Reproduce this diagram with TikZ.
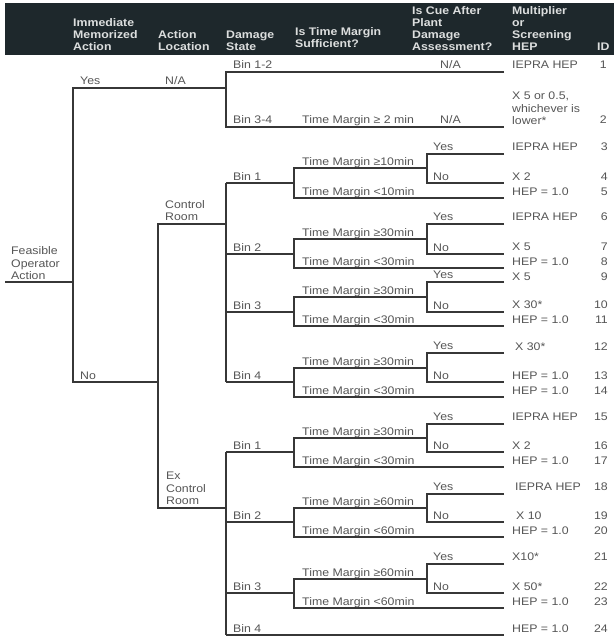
\documentclass[tikz,border=0pt]{standalone}
\usepackage{fontspec}
\setmainfont{Liberation Sans}[FakeStretch=1.12]
\definecolor{linec}{RGB}{55,55,55}
\definecolor{txtc}{RGB}{85,85,85}
\definecolor{hdrbg}{RGB}{30,40,44}
\definecolor{hdrtxt}{RGB}{220,222,222}
\tikzset{
  ln/.style={draw=linec, line width=1.6pt, line join=miter},
  lbl/.style={anchor=base west, inner sep=0pt, text=txtc, font=\fontsize{11}{13}\selectfont},
  mlbl/.style={anchor=south west, inner sep=0pt, align=left, text=txtc, font=\fontsize{11}{12.5}\selectfont},
  idl/.style={anchor=base east, inner sep=0pt, text=txtc, font=\fontsize{11}{13}\selectfont},
  hdr/.style={anchor=south west, inner sep=0pt, align=left, text depth=0pt, text=hdrtxt, font=\bfseries\fontsize{11}{12}\selectfont},
}
% sub-bin: #1 name, #2 yb, #3 yge, #4 ylt, #5 yyes, #6 threshold
\newcommand{\mysubbin}[6]{%
  \coordinate (#1b0) at (226,#2);
  \coordinate (#1b1) at (294,#2);
  \coordinate (#1ge0) at (294,#3);
  \coordinate (#1ge1) at (427,#3);
  \coordinate (#1lt0) at (294,#4);
  \coordinate (#1lt1) at (504,#4);
  \coordinate (#1y0) at (427,#5);
  \coordinate (#1y1) at (504,#5);
  \coordinate (#1n0) at (427,#2);
  \coordinate (#1n1) at (504,#2);
  \draw[ln] (#1b0) -- (#1b1);
  \draw[ln] (#1ge1) -- (#1ge0) -- (#1lt0) -- (#1lt1);
  \draw[ln] (#1y1) -- (#1y0) -- (#1n0) -- (#1n1);
  \node[lbl] (#1tge) at ($(#1ge0)+(8,-3)$) {Time Margin ≥#6};
  \node[lbl] (#1tlt) at ($(#1lt0)+(8,-3)$) {Time Margin <#6};
  \node[lbl] (#1yes) at ($(#1y0)+(6,-4)$) {Yes};
  \node[lbl] (#1no) at ($(#1n0)+(6,-3)$) {No};
}
\usetikzlibrary{calc}
\begin{document}
\begin{tikzpicture}[x=1pt,y=-1pt]
\useasboundingbox (0,0) rectangle (614,639);
% header
\fill[hdrbg] (5,3) rectangle (614,55);
\node[hdr] (h1) at (73,51) {Immediate\\Memorized\\Action};
\node[hdr] (h2) at (158,51) {Action\\Location};
\node[hdr] (h3) at (226,51) {Damage\\State};
\node[hdr] (h4) at (295,48) {Is Time Margin\\Sufficient?};
\node[hdr] (h5) at (412,51) {Is Cue After\\Plant\\Damage\\Assessment?};
\node[hdr] (h6) at (512,51) {Multiplier\\or\\Screening\\HEP};
\node[hdr] (h7) at (597,51) {ID};

% root
\coordinate (r0) at (5,282);
\coordinate (r1) at (73,282);
\coordinate (ry) at (73,88);
\coordinate (rn) at (73,382);
\coordinate (ya) at (226,88);
\coordinate (na) at (158,382);
\draw[ln] (r0) -- (r1);
\draw[ln] (ya) -- (ry) -- (rn) -- (na);
\node[mlbl] (feas) at (11,280) {Feasible\\Operator\\Action};
\node[lbl] (yes0) at (80,85) {Yes};
\node[lbl] (no0) at (80,379) {No};
\node[lbl] (na0) at (165,85) {N/A};

% yes branch
\coordinate (b12a) at (226,72);
\coordinate (b12b) at (504,72);
\coordinate (b34a) at (226,127);
\coordinate (b34b) at (504,127);
\draw[ln] (b12b) -- (b12a) -- (b34a) -- (b34b);
\node[lbl] (lb12) at (233,69) {Bin 1-2};
\node[lbl] (lb34) at (233,124) {Bin 3-4};
\node[lbl] (tm2) at (302,124) {Time Margin ≥ 2 min};
\node[lbl] (na1) at (440,69) {N/A};
\node[lbl] (na2) at (440,124) {N/A};
\node[lbl] (o1) at (512,69) {IEPRA HEP};
\node[mlbl] (o2) at (512,125) {X 5 or 0.5,\\whichever is\\lower*};
\node[idl] (i1) at (607,69) {1};
\node[idl] (i2) at (607,124) {2};

% location split
\coordinate (cr0) at (158,224);
\coordinate (cr1) at (226,224);
\coordinate (ex0) at (158,508);
\coordinate (ex1) at (226,508);
\draw[ln] (cr1) -- (cr0) -- (ex0) -- (ex1);
\node[mlbl] (lcr) at (165,221) {Control\\Room};
\node[mlbl] (lex) at (166,505) {Ex\\Control\\Room};

% control room bins
\coordinate (crt) at (226,183);
\coordinate (crb) at (226,382);
\draw[ln] (crt) -- (crb);
\mysubbin{c1}{183}{168}{198}{154}{10min}
\mysubbin{c2}{254}{239}{268}{224}{30min}
\mysubbin{c3}{312}{297}{326}{282}{30min}
\mysubbin{c4}{382}{368}{397}{353}{30min}
\node[lbl] (lc1) at (233,180) {Bin 1};
\node[lbl] (lc2) at (233,251) {Bin 2};
\node[lbl] (lc3) at (233,309) {Bin 3};
\node[lbl] (lc4) at (233,379) {Bin 4};

% ex control room bins
\coordinate (ext) at (226,452);
\coordinate (exb) at (226,635);
\draw[ln] (ext) -- (exb);
\mysubbin{e1}{452}{438}{467}{424}{30min}
\mysubbin{e2}{522}{508}{537}{494}{60min}
\mysubbin{e3}{593}{579}{608}{564}{60min}
\coordinate (e4b1) at (504,635);
\draw[ln] (exb) -- (e4b1);
\node[lbl] (le1) at (233,449) {Bin 1};
\node[lbl] (le2) at (233,519) {Bin 2};
\node[lbl] (le3) at (233,590) {Bin 3};
\node[lbl] (le4) at (233,632) {Bin 4};

% outputs
\node[lbl] (o3) at (512,150) {IEPRA HEP};
\node[lbl] (o4) at (512,180) {X 2};
\node[lbl] (o5) at (512,195) {HEP = 1.0};
\node[lbl] (o6) at (512,220) {IEPRA HEP};
\node[lbl] (o7) at (512,250) {X 5};
\node[lbl] (o8) at (512,265) {HEP = 1.0};
\node[lbl] (o9) at (512,280) {X 5};
\node[lbl] (o10) at (512,308) {X 30*};
\node[lbl] (o11) at (512,323) {HEP = 1.0};
\node[lbl] (o12) at (515,350) {X 30*};
\node[lbl] (o13) at (512,379) {HEP = 1.0};
\node[lbl] (o14) at (512,394) {HEP = 1.0};
\node[lbl] (o15) at (512,420) {IEPRA HEP};
\node[lbl] (o16) at (512,449) {X 2};
\node[lbl] (o17) at (512,464) {HEP = 1.0};
\node[lbl] (o18) at (515,490) {IEPRA HEP};
\node[lbl] (o19) at (516,519) {X 10};
\node[lbl] (o20) at (512,534) {HEP = 1.0};
\node[lbl] (o21) at (512,560) {X10*};
\node[lbl] (o22) at (512,590) {X 50*};
\node[lbl] (o23) at (512,605) {HEP = 1.0};
\node[lbl] (o24) at (512,632) {HEP = 1.0};
\foreach \i/\y in {3/150,4/180,5/195,6/220,7/250,8/265,9/280,10/308,11/323,12/350,13/379,14/394,15/420,16/449,17/464,18/490,19/519,20/534,21/560,22/590,23/605,24/632}{
  \node[idl] (i\i) at (608,\y) {\i};
}
\end{tikzpicture}
\end{document}
